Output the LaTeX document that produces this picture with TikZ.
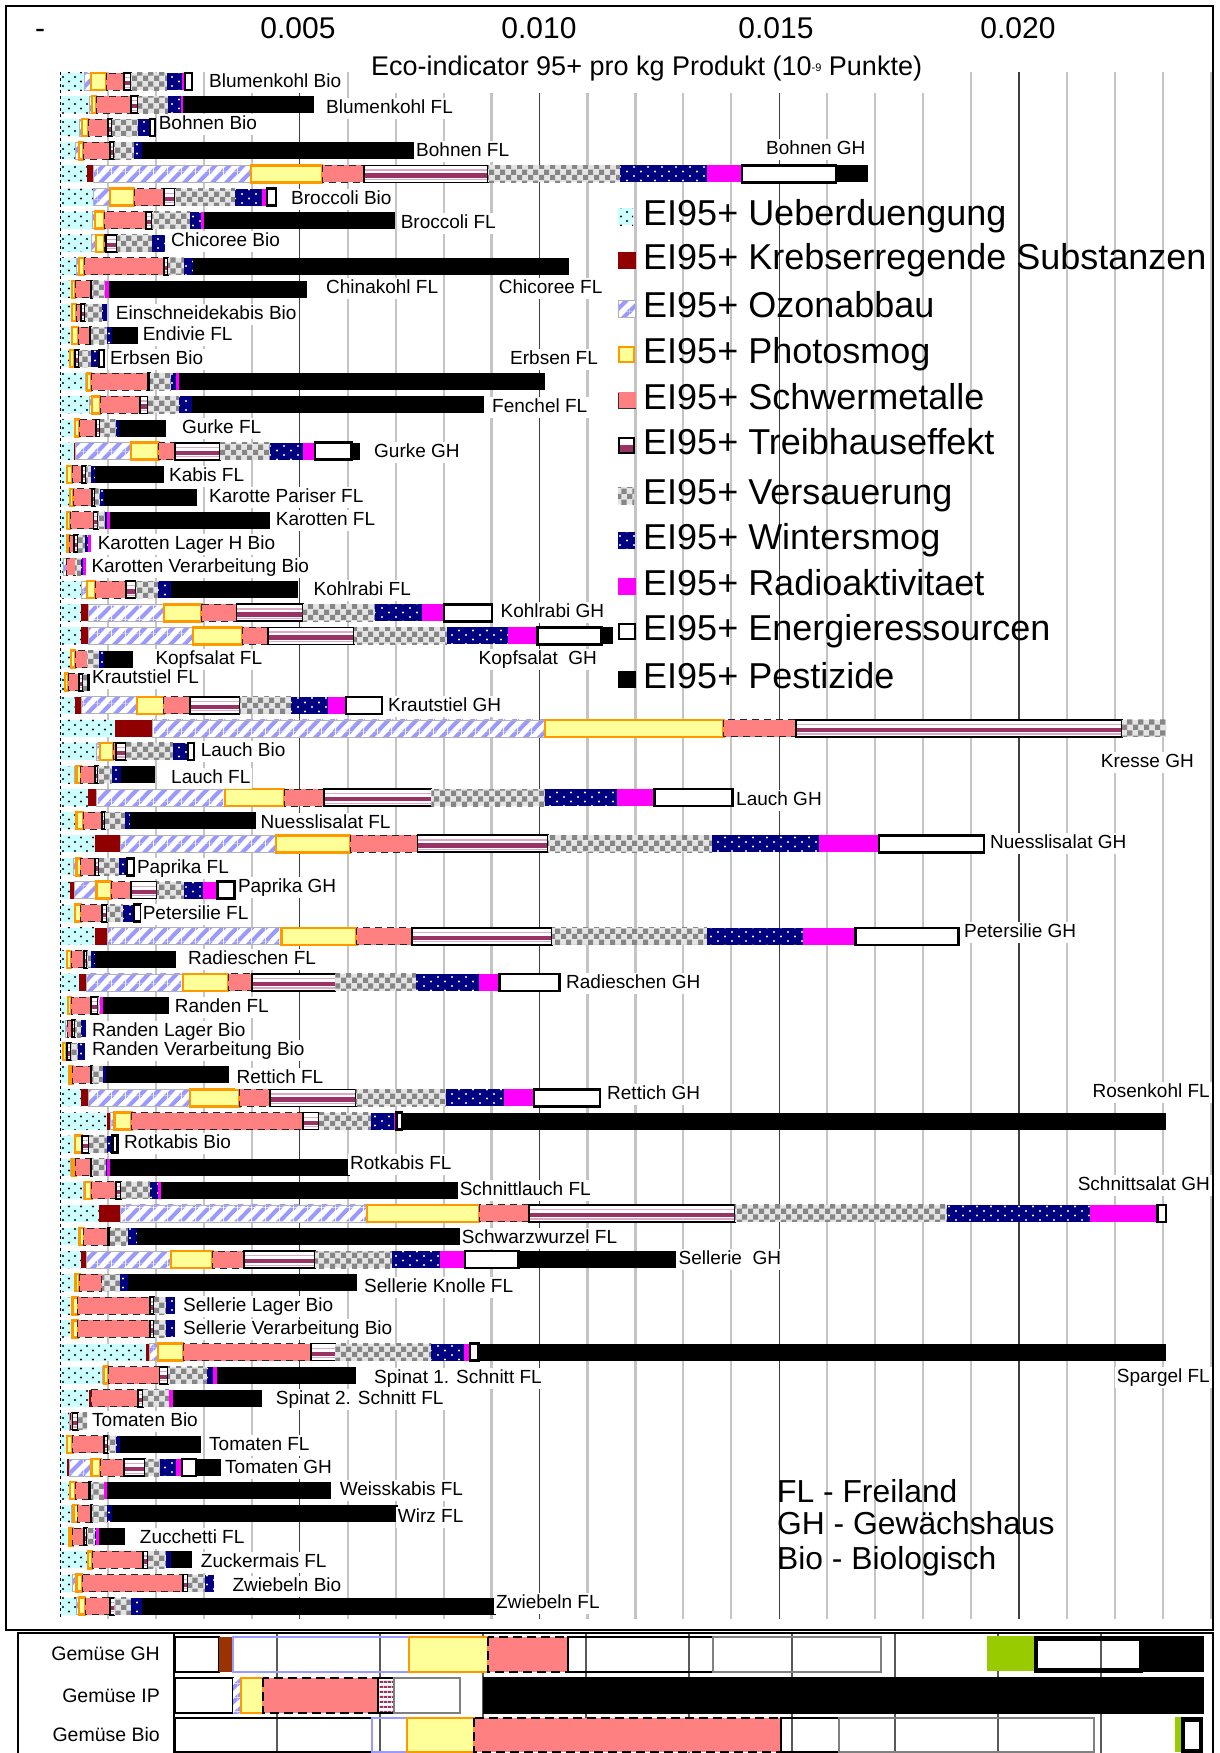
\documentclass[tikz,border=0pt]{standalone}
\usepackage{fontspec}
\setmainfont{Liberation Sans}
\usetikzlibrary{patterns}

\definecolor{ucyan}{HTML}{CCFFFF}
\definecolor{kred}{HTML}{900000}
\definecolor{olav}{HTML}{9999FF}
\definecolor{pyel}{HTML}{FFFF99}
\definecolor{pora}{HTML}{FF9900}
\definecolor{ssal}{HTML}{FF8080}
\definecolor{tpur}{HTML}{993366}
\definecolor{tpink}{HTML}{DDA8C4}
\definecolor{vdark}{HTML}{868686}
\definecolor{vlight}{HTML}{E4E4E4}
\definecolor{wnavy}{HTML}{000080}
\definecolor{rmag}{HTML}{FF00FF}
\definecolor{gminor}{HTML}{C4C4C4}
\definecolor{gmajor}{HTML}{404040}
\definecolor{pgreen}{HTML}{99CC00}
\definecolor{pbrown}{HTML}{993300}

% fill patterns of the impact categories
\pgfdeclarepatternformonly{udots}{\pgfqpoint{-1pt}{-1pt}}{\pgfqpoint{13pt}{10pt}}{\pgfqpoint{12pt}{9pt}}{%
  \pgfpathcircle{\pgfqpoint{3pt}{2pt}}{1.1pt}%
  \pgfpathcircle{\pgfqpoint{9pt}{6.5pt}}{1.1pt}%
  \pgfusepath{fill}}
\pgfdeclarepatternformonly{wdots}{\pgfqpoint{-1pt}{-1pt}}{\pgfqpoint{15pt}{10pt}}{\pgfqpoint{14pt}{9pt}}{%
  \pgfpathcircle{\pgfqpoint{4pt}{2pt}}{1.1pt}%
  \pgfpathcircle{\pgfqpoint{11pt}{6.5pt}}{1.1pt}%
  \pgfusepath{fill}}
\pgfdeclarepatternformonly{vcheck}{\pgfpointorigin}{\pgfqpoint{11pt}{11pt}}{\pgfqpoint{11pt}{11pt}}{%
  \pgfpathrectangle{\pgfpointorigin}{\pgfqpoint{5.5pt}{5.5pt}}%
  \pgfpathrectangle{\pgfqpoint{5.5pt}{5.5pt}}{\pgfqpoint{5.5pt}{5.5pt}}%
  \pgfusepath{fill}}
\pgfdeclarepatternformonly{ostripe}{\pgfpointorigin}{\pgfqpoint{14pt}{14pt}}{\pgfqpoint{14pt}{14pt}}{%
  \pgfpathmoveto{\pgfqpoint{0pt}{0pt}}%
  \pgfpathlineto{\pgfqpoint{3pt}{0pt}}%
  \pgfpathlineto{\pgfqpoint{14pt}{11pt}}%
  \pgfpathlineto{\pgfqpoint{14pt}{14pt}}%
  \pgfpathlineto{\pgfqpoint{11pt}{14pt}}%
  \pgfpathlineto{\pgfqpoint{0pt}{3pt}}%
  \pgfpathclose
  \pgfpathmoveto{\pgfqpoint{11pt}{0pt}}%
  \pgfpathlineto{\pgfqpoint{14pt}{0pt}}%
  \pgfpathlineto{\pgfqpoint{14pt}{3pt}}%
  \pgfpathclose
  \pgfpathmoveto{\pgfqpoint{0pt}{11pt}}%
  \pgfpathlineto{\pgfqpoint{0pt}{14pt}}%
  \pgfpathlineto{\pgfqpoint{3pt}{14pt}}%
  \pgfpathclose
  \pgfusepath{fill}}
\pgfdeclarepatternformonly{hstripe}{\pgfpointorigin}{\pgfqpoint{4pt}{5pt}}{\pgfqpoint{4pt}{5pt}}{%
  \pgfpathrectangle{\pgfpointorigin}{\pgfqpoint{4pt}{2.5pt}}%
  \pgfusepath{fill}}

\tikzset{
  segU/.style={preaction={fill=ucyan}, pattern=udots, pattern color=black},
  segK/.style={fill=kred},
  segO/.style={preaction={fill=white}, pattern=ostripe, pattern color=olav, draw=black!30, line width=0.6pt},
  segP/.style={fill=pyel, draw=pora, line width=2.4pt},
  segS/.style={fill=ssal, draw=black!85, line width=0.9pt, dash pattern=on 7pt off 5pt},
  segV/.style={preaction={fill=vlight}, pattern=vcheck, pattern color=vdark},
  segW/.style={preaction={fill=wnavy}, pattern=wdots, pattern color=white},
  segR/.style={fill=rmag},
  segE/.style={fill=white, draw=black, line width=2.4pt},
  segX/.style={fill=black},
  tbox/.style={draw=black, line width=1.8pt},
  lbl/.style={font=\fontsize{19}{22}\selectfont, fill=white, inner xsep=2pt, inner ysep=1.5pt,
    text height=14pt, text depth=4pt, anchor=base west},
  lblr/.style={lbl, anchor=base east},
  leg/.style={font=\fontsize{36}{40}\selectfont, anchor=base west, inner sep=0pt},
  note/.style={font=\fontsize{31.8}{36}\selectfont, anchor=base west, inner sep=0pt},
  tick/.style={font=\fontsize{30}{34}\selectfont, anchor=base, inner sep=0pt},
  minorgrid/.style={gminor, line width=2.2pt},
  majorgrid/.style={gmajor, line width=1.2pt},
  pgrid/.style={black!65, line width=1.1pt},
  pframe/.style={draw=black, line width=1.6pt},
  plabel/.style={font=\fontsize{19.5}{22}\selectfont, anchor=east, inner sep=0pt},
}

% one segment: #1 category number, #2 start, #3 end, #4 centre line of the bar
\newcommand\drawseg[4]{%
  \ifcase#1\or
    \path[segU] (#2,#4-8.5) rectangle (#3,#4+8.5);\or
    \path[segK] (#2,#4-8.5) rectangle (#3,#4+8.5);\or
    \path[segO] (#2,#4-8.5) rectangle (#3,#4+8.5);\or
    \path[segP] (#2,#4-8.5) rectangle (#3,#4+8.5);\or
    \path[segS] (#2,#4-8.5) rectangle (#3,#4+8.5);\or
    \path[fill=white] (#2,#4-8.5) rectangle (#3,#4+8.5);
    \fill[tpink] (#2,#4-4.5) rectangle (#3,#4-3.3);
    \fill[tpur] (#2,#4-0.5) rectangle (#3,#4+3.8);
    \fill[tpink] (#2,#4+5) rectangle (#3,#4+6.2);
    \draw[tbox] (#2,#4-8.5) rectangle (#3,#4+8.5);\or
    \path[segV] (#2,#4-8.5) rectangle (#3,#4+8.5);\or
    \path[segW] (#2,#4-8.5) rectangle (#3,#4+8.5);\or
    \path[segR] (#2,#4-8.5) rectangle (#3,#4+8.5);\or
    \path[segE] (#2,#4-8.5) rectangle (#3,#4+8.5);\or
    \path[segX] (#2,#4-8.5) rectangle (#3,#4+8.5);
  \fi}

% one stacked bar: #1 row number, #2 cumulative ends of the eleven categories
\newcommand\barrow[2]{%
  \pgfmathsetmacro\yc{81.5+23.1*#1}%
  \foreach \e [count=\i, remember=\e as \s (initially 60)] in {#2} {%
    \ifdim\e pt>\s pt\relax\drawseg{\i}{\s}{\e}{\yc}\fi}}

\begin{document}
\begin{tikzpicture}[x=1pt,y=-1pt]
\useasboundingbox (0,0) rectangle (1219,1753);
\fill[white] (0,0) rectangle (1219,1753);

% ---------- grid of the main chart ----------
\foreach \k in {1,...,24} {
  \pgfmathsetmacro\gx{60+47.95*\k}
  \pgfmathtruncatemacro\m{mod(\k,5)}
  \ifnum\m=0 \draw[majorgrid] (\gx,72) -- (\gx,1619);
  \else \draw[minorgrid] (\gx,72) -- (\gx,1619); \fi
}

% ---------- axis labels and title ----------
\node[tick] (t0) at (40,39) {-};
\node[tick] (t5) at (298,39) {0.005};
\node[tick] (t10) at (539,39) {0.010};
\node[tick] (t15) at (776,39) {0.015};
\node[tick] (t20) at (1018,39) {0.020};
\node[font=\fontsize{27}{30}\selectfont, anchor=base west, fill=white, inner sep=4pt,
      text height=20pt, text depth=14pt] (title) at (367,75)
  {Eco-indicator 95+ pro kg Produkt (10{\fontsize{11}{11}\selectfont\raisebox{4pt}{-9}} Punkte)};

% ---------- bars ----------
\barrow{0}{84,84,91,106,124,131,167,182,185,192,192}
\barrow{1}{89,89,92,96,131,138,168,180.5,183,183,314}
\barrow{2}{79,79,82,88,108,112,138,150,150,155,155}
\barrow{3}{75,75,79,83,110,114,134,142,142,142,415}
\barrow{4}{87,93,251,322,364,488,620,707,742,836,868}
\barrow{5}{93,93,110,134,164,175,235,262,267,276,276}
\barrow{6}{92,92,95,104,146,152,190,201,204,204,395}
\barrow{7}{91,91,96,104,106,117,152,165,165,165,165}
\barrow{8}{76,76,79,84,164,168,184,193,193,193,569}
\barrow{9}{71,71,72,75,91,92,105,105,109,109,307}
\barrow{10}{72,72,72,76,81,85,102,107,107,107,107}
\barrow{11}{72,72,72,78,90,91,107,112,112,112,138}
\barrow{12}{69,69,70,74,75,79,91,99,99,104,104}
\barrow{13}{85,85,87,91,148,150,171,176,179,179,545}
\barrow{14}{89,89,92,100,140,148,179,192,192,192,484}
\barrow{15}{75,75,75,79,96,100,116,119,119,119,166}
\barrow{16}{73.6,75,131,158.6,174.6,219.7,270,302.6,315,351.4,360}
\barrow{17}{67,67,67,72,82,86,91,95,95,95,164}
\barrow{18}{70,70,70,73.6,92,95,100,104,104,104,197}
\barrow{19}{67,67,67,70,93.4,97.6,104.8,107.3,110,110,270}
\barrow{20}{67,67,67,69.4,73.6,77.8,85,88,91,91,91}
\barrow{21}{63,63,66,66,75,75,81,83,86,86,86}
\barrow{22}{81,81,87,95,126,135.5,158,171,171,171,298}
\barrow{23}{81,88,163.7,201.6,236.5,302.6,375.4,421.7,444,492,492}
\barrow{24}{81,88,193,242,268,354,447,508,537.5,601.4,613}
\barrow{25}{71,71,71,75,87,87,99,104,104,104,133}
\barrow{26}{65,65,65,68,78.7,83,87,87,87,87,90}
\barrow{27}{74.5,81,137,163.7,190,239.5,291,328,346,381.7,381.7}
\barrow{28}{114.5,152,545,723.5,796,1121.6,1166,1166,1166,1166,1166}
\barrow{29}{96,96,100,113,115.7,126,173,188,188,194,194}
\barrow{30}{74.5,74.5,76.6,80.8,94.7,97.6,111.5,120.8,120.8,120.8,155.3}
\barrow{31}{88,96,225,284,323.6,431.4,545,617.4,654.5,732.5,732.5}
\barrow{32}{76.6,76.6,76.6,83,102,105,125,130,130,130,256}
\barrow{33}{94.7,120,275.7,350,417.5,548,712,818.6,879,984,984}
\barrow{34}{73.6,73.6,76.6,80.8,94.7,99,118.7,127,127,134,134}
\barrow{35}{70,74.5,96.4,111,131,156.5,184,202.8,217.6,234.4,234.4}
\barrow{36}{75,75,75,80.8,101.8,107.3,123,134,134,141,141}
\barrow{37}{94.7,107.3,281.5,356.5,412,552,706.8,803,855.5,958.4,958.4}
\barrow{38}{67,67,67,71,83.7,87,91.3,94.7,94.7,94.7,176.3}
\barrow{39}{78.7,86,183,228,252,335.4,416,478.5,499.6,559.4,559.4}
\barrow{40}{68,68,68,71,91.3,97.6,99.7,99.7,103,103,169}
\barrow{41}{65,65,67,67,72,75,81,86,86,86,86}
\barrow{42}{63,63,63,66,67,71,78,85,85,85,85}
\barrow{43}{69.4,69.4,69.4,72.4,90.5,92,103,106,106,106,229}
\barrow{44}{81,88,190,239.5,270,355.6,445.7,503.8,534,599.7,599.7}
\barrow{45}{107.3,110,114.4,131.3,302.6,318.6,371.2,393.5,396.4,402,1166}
\barrow{46}{75,75,75,82,82,89,107.3,112.3,112.3,117.4,117.4}
\barrow{47}{70,70,72.4,75.3,90.5,92,106,107.3,110.2,110.2,350}
\barrow{48}{83,83,85,91.3,115.7,120.8,150,157.8,160.7,160.7,459.6}
\barrow{49}{99,120,367,479,529,734.7,947,1090,1157.4,1166,1166}
\barrow{50}{77.8,77.8,79.5,83.7,108,110,128.3,136.8,136.8,136.8,461.7}
\barrow{51}{81,86,171,212.5,243.7,315,392,439.8,465,518.5,675.5}
\barrow{52}{73.6,75.3,75.3,79.5,101.8,101.8,120,128.3,128.3,128.3,357.3}
\barrow{53}{72.4,72.4,72.4,77.8,150,153.6,166.2,174.6,174.6,174.6,174.6}
\barrow{54}{72.4,72.4,72.4,77.8,150,153.6,166.2,174.6,174.6,174.6,174.6}
\barrow{55}{146,149.4,157.8,183,311,335.4,431.4,463.8,470,478.5,1166}
\barrow{56}{101.8,101.8,104,108,159.5,168,207,213.4,216.7,216.7,355.6}
\barrow{57}{89,91.3,91.3,91.3,137.6,142.6,169,169,173.4,173.4,261.7}
\barrow{58}{69.4,69.4,70.5,70.5,72.4,77.8,87,87,87,87,87}
\barrow{59}{67,67,67,72.4,104,108,115.7,120,120,120,200.7}
\barrow{60}{67,69.4,91.3,100.5,124,145,159.5,176.3,181.8,195.7,221}
\barrow{61}{70,70,70,75.3,89.2,91.3,104,104,107.3,107.3,331}
\barrow{62}{71,71,73.6,77.8,90.5,92,107.3,111.5,111.5,111.5,397.7}
\barrow{63}{69.4,69.4,69.4,72.4,83.7,87,94.7,96.4,99,99,125}
\barrow{64}{88,88,88,92,142.6,148,166.2,171.3,171.3,171.3,192.3}
\barrow{65}{72.4,72.4,76.6,82,183,188,205,214,214,214,214}
\barrow{66}{76.6,76.6,78.7,85,110,114.4,131.3,142,142,142,496}

% value axis
\draw[line width=1pt, dash pattern=on 3pt off 3pt] (60,72) -- (60,1619);

% ---------- bar labels ----------
\foreach \lx/\ly/\lt [count=\n] in {
  209/80/Blumenkohl Bio, 326/106/Blumenkohl FL, 158.6/122/Bohnen Bio, 416/149/Bohnen FL,
  766/147/Bohnen GH, 291/197/Broccoli Bio, 400.6/221/Broccoli FL, 171/239/Chicoree Bio,
  498.7/286.7/Chicoree FL, 326/286.7/Chinakohl FL, 115.7/312/Einschneidekabis Bio,
  142.6/333/Endivie FL, 110/357.7/Erbsen Bio, 510/357.7/Erbsen FL, 492/405/Fenchel FL,
  181.8/426/Gurke FL, 374/450/Gurke GH, 169/474/Kabis FL, 209/495/Karotte Pariser FL,
  275.7/518.7/Karotten FL, 97.6/542/Karotten Lager H Bio, 91.3/565/Karotten Verarbeitung Bio,
  313.5/588/Kohlrabi FL, 500.4/610/Kohlrabi GH, 478.5/657.7/Kopfsalat\ \ GH,
  155.3/657.7/Kopfsalat FL, 92/676.7/Krautstiel FL, 388/704/Krautstiel GH,
  200.7/749/Lauch Bio, 171/776/Lauch FL, 736/798/Lauch GH, 260.5/821/Nuesslisalat FL,
  990/841/Nuesslisalat GH, 136.8/866.7/Paprika FL, 237.8/885.3/Paprika GH,
  142.6/912/Petersilie FL, 964/930/Petersilie GH, 188/957.7/Radieschen FL,
  566/981/Radieschen GH, 174.6/1005/Randen FL, 92/1029/Randen Lager Bio,
  92/1048.7/Randen Verarbeitung Bio, 236.5/1076/Rettich FL, 607/1092.7/Rettich GH,
  124/1141/Rotkabis Bio, 350/1162.7/Rotkabis FL, 459.6/1188.7/Schnittlauch FL,
  461.7/1236.7/Schwarzwurzel FL, 678.5/1257.7/Sellerie\ \ GH, 364/1285/Sellerie Knolle FL,
  183/1304/Sellerie Lager Bio, 183/1327.7/Sellerie Verarbeitung Bio,
  374/1376/Spinat 1. Schnitt FL, 275.7/1397.7/Spinat 2. Schnitt FL, 92/1419/Tomaten Bio,
  209/1443/Tomaten FL, 225/1466.7/Tomaten GH, 339.6/1488.7/Weisskabis FL,
  397.7/1515/Wirz FL, 139.7/1536.7/Zucchetti FL, 200.7/1560/Zuckermais FL,
  232.3/1584/Zwiebeln Bio, 496/1601/Zwiebeln FL}
  \node[lbl] (lab\n) at (\lx-2,\ly+7) {\lt};
\node[lblr] (labKresse) at (1196,767) {Kresse GH};
\node[lblr] (labRosen) at (1212,1097) {Rosenkohl FL};
\node[lblr] (labSchnittsalat) at (1212,1190) {Schnittsalat GH};
\node[lblr] (labSpargel) at (1212,1382) {Spargel FL};

% ---------- legend ----------
\path[segU] (618,208) rectangle (633,225);
\path[segK] (618,252) rectangle (636,269);
\path[segO] (618,300) rectangle (635,317);
\path[segP] (619,347) rectangle (634,362);
\path[fill=ssal] (618,392) rectangle (636,409);
\draw[black!80, line width=1pt] (618.5,393) -- (618.5,408.5) -- (636,408.5);
\fill[white] (618,437) rectangle (635,445);
\fill[tpur] (618,445) rectangle (635,454);
\draw[black, line width=1.6pt] (618.8,437.8) rectangle (634.2,453.2);
\path[segV] (618,487) rectangle (634,504);
\path[segW] (618,532) rectangle (635,549);
\path[segR] (618,578) rectangle (636,595);
\path[segE] (619.2,624.2) rectangle (634.8,638.8);
\path[segX] (618,671) rectangle (636,688);
\foreach \ly/\lt [count=\n] in {213/Ueberduengung, 257/Krebserregende Substanzen, 305/Ozonabbau,
  351/Photosmog, 397/Schwermetalle, 442/Treibhauseffekt, 492/Versauerung, 537/Wintersmog,
  583/Radioaktivitaet, 628/Energieressourcen, 676/Pestizide}
  \node[leg] (leg\n) at (643,\ly+12.8) {EI95+ \lt};

% ---------- abbreviations ----------
\node[note] (abFL) at (777,1502) {FL - Freiland};
\node[note] (abGH) at (777,1534) {GH - Gewächshaus};
\node[note] (abBio) at (777,1569) {Bio - Biologisch};

% main frame
\draw[line width=1.5pt] (6,6) rectangle (1213,1630);

% ---------- summary panel ----------
\fill[white] (18,1633) rectangle (1213,1753);
\foreach \k in {1,...,9} \draw[pgrid] (174+103*\k,1633) -- (174+103*\k,1753);
\draw[line width=1.2pt] (174,1633) -- (174,1753);
\draw[line width=1.5pt] (18,1753) -- (18,1633) -- (1213,1633) -- (1213,1753);

\node[plabel] (pGH) at (160,1654) {Gemüse GH};
\node[plabel] (pIP) at (160,1696) {Gemüse IP};
\node[plabel] (pBio) at (160,1735) {Gemüse Bio};

% Gemuese GH
\draw[pframe] (175,1637) rectangle (219,1672);
\fill[pbrown] (219,1637) rectangle (233,1672);
\draw[olav, line width=1.6pt] (233,1637) rectangle (409,1672);
\path[fill=pyel, draw=pora, line width=2pt] (409,1637) rectangle (488,1672);
\path[fill=ssal, draw=black, line width=1.6pt, dash pattern=on 9pt off 5pt] (488,1637) rectangle (568,1672);
\draw[pframe] (568,1637) rectangle (713,1672);
\draw[black!50, line width=2pt] (713,1637) rectangle (881,1672);
\fill[pgreen] (987,1636) rectangle (1034,1671);
\draw[black, line width=4.5pt] (1036,1638.5) rectangle (1141,1670.5);
\fill[black] (1141,1636) rectangle (1204,1672);

% Gemuese IP
\draw[pframe] (175,1678) rectangle (233,1713);
\path[preaction={fill=white}, pattern=ostripe, pattern color=olav] (233,1678) rectangle (241,1713);
\path[fill=pyel, draw=pora, line width=2pt] (241,1678) rectangle (263,1713);
\path[fill=ssal, draw=black, line width=1.6pt, dash pattern=on 9pt off 5pt] (263,1678) rectangle (378,1713);
\path[preaction={fill=white}, pattern=hstripe, pattern color=tpur] (378,1678) rectangle (394,1713);
\draw[black, line width=1.2pt] (378,1678) rectangle (394,1713);
\draw[black!50, line width=2pt] (394,1678) rectangle (460,1713);
\fill[black] (483,1677) rectangle (1204,1714);

% Gemuese Bio
\draw[pframe] (175,1718) rectangle (372,1752);
\draw[olav, line width=1.6pt] (372,1718) rectangle (407,1752);
\path[fill=pyel, draw=pora, line width=2pt] (407,1718) rectangle (474,1752);
\path[fill=ssal, draw=black, line width=1.6pt, dash pattern=on 9pt off 5pt] (474,1718) rectangle (781,1752);
\draw[pframe] (781,1718) rectangle (839,1752);
\draw[black!50, line width=2pt] (839,1718) rectangle (1094,1752);
\fill[pgreen] (1175,1717) rectangle (1181,1752);
\draw[black, line width=4.5pt] (1183,1719.5) rectangle (1201,1751);
\end{tikzpicture}
\end{document}
